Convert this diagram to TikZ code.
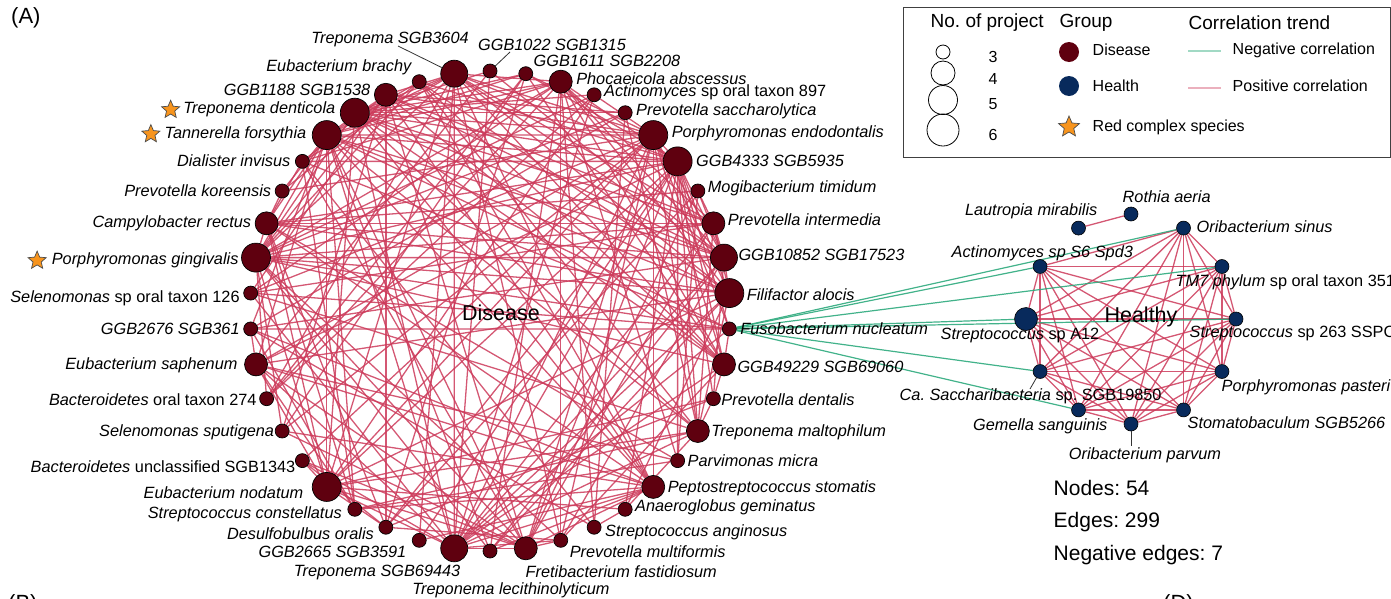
\documentclass[tikz,border=0pt]{standalone}
\usepackage{fontspec}
\setmainfont{Liberation Sans}
\usetikzlibrary{shapes.geometric,backgrounds}
\frenchspacing

\definecolor{diseasered}{RGB}{95,0,15}
\definecolor{healthblue}{RGB}{8,42,92}
\definecolor{posred}{RGB}{204,58,90}
\definecolor{neggreen}{RGB}{46,170,125}
\definecolor{starorange}{RGB}{247,148,29}

\tikzset{
  dnode/.style={circle, draw=black, line width=0.7pt, fill=diseasered, inner sep=0pt},
  hnode/.style={circle, draw=black, line width=0.6pt, fill=healthblue, inner sep=0pt},
  lab/.style={font=\fontsize{16.3}{18}\selectfont\itshape, inner sep=0.5pt},
  posedge/.style={draw=posred, line width=1.3pt, opacity=0.85},
  negedge/.style={draw=neggreen, line width=1.2pt, opacity=0.9},
  leader/.style={draw=black!80, line width=0.8pt},
  redstar/.style={star, star points=5, star point ratio=2.2, draw=black!70, line width=0.7pt, fill=starorange, inner sep=0pt},
  keytext/.style={font=\fontsize{16}{18}\selectfont, inner sep=0.5pt, anchor=west},
  keytitle/.style={font=\fontsize{19}{21}\selectfont, inner sep=0.5pt, anchor=west},
  stattext/.style={font=\fontsize{21}{24}\selectfont, inner sep=0.5pt, anchor=west}
}

%weights of the disease nodes (no. of project)
\newcommand\dwt{{1,1,2,1,1,3,3,1,2,3,3,1,2,1,2,1,2,1,1,1,2,1,3,1,1,1,3,1,1,1,2,1,1,3,2,1,1,3,3,2,1,3}}

\begin{document}
\begin{tikzpicture}[x=1pt,y=-1pt]
    \useasboundingbox (0,0) rectangle (1391,598);

    \node[font=\fontsize{22}{24}\selectfont, anchor=west, inner sep=0pt] (pa) at (11,18) {(A)};
    \node[font=\fontsize{22}{24}\selectfont, anchor=west, inner sep=0pt] (pb) at (8,605) {(B)};
    \node[font=\fontsize{22}{24}\selectfont, anchor=west, inner sep=0pt] (pd) at (1163,605) {(D)};

    %Disease ring
    \foreach \k/\d in {0/14,1/14,2/23,3/14,4/14,5/29,6/29,7/14,8/23,9/27,10/29,11/14,12/23,13/14,
        14/23,15/14,16/23,17/14,18/14,19/14,20/23,21/14,22/27,23/14,24/14,25/14,26/29,27/14,
        28/14,29/14,30/23,31/14,32/14,33/29,34/23,35/14,36/14,37/29,38/29,39/23,40/14,41/27}
        \node[dnode, minimum size=\d pt] (d\k) at ({490+240*cos(90-\k*360/42)},{311-240*sin(90-\k*360/42)}) {};

    %Healthy ring
    \foreach \k/\d in {0/14,1/14,2/14,3/14,4/14,5/14,6/14,7/14,8/14,9/23,10/14,11/14}
        \node[hnode, minimum size=\d pt] (h\k) at ({1131+105*cos(90-30*\k)},{319-105*sin(90-30*\k)}) {};

    \begin{pgfonlayer}{background}
        %Positive edges, disease
        \foreach \i in {0,...,40}{
            \pgfmathtruncatemacro\ia{\i+1}
            \foreach \j in {\ia,...,41}{
                \pgfmathtruncatemacro\hit{mod(37*\i+61*\j+23*mod(\i*\j,101)+11*mod(\j*\j,101),101) < 10.1*\dwt[\i]*\dwt[\j]}
                \ifnum\hit=1 \draw[posedge] (d\i) -- (d\j); \fi
            }
        }
        %Positive edges, healthy
        \draw[posedge] (h0) -- (h11);
        \foreach \i in {1,...,9}{
            \pgfmathtruncatemacro\ia{\i+1}
            \foreach \j in {\ia,...,10}
                \draw[posedge] (h\i) -- (h\j);
        }
        %Negative edges
        \foreach \t in {1,2,3,7,8,9,10}
            \draw[negedge] (d11) -- (h\t);
    \end{pgfonlayer}

    \node[font=\fontsize{21.5}{24}\selectfont, inner sep=0pt] (dt) at (501,313) {Disease};
    \node[font=\fontsize{21.5}{24}\selectfont, inner sep=0pt] (ht) at (1141,317) {Healthy};

    %Labels right
    \foreach \k/\xs/\ys/\txt in {2/3/3/{Phocaeicola abscessus},
        3/2/2/{Actinomyces \textup{sp oral taxon 897}},
        4/3/1/{Prevotella saccharolytica},
        5/3/2/{Porphyromonas endodontalis},
        6/3/0/{GGB4333 SGB5935},
        7/2/3/{Mogibacterium timidum},
        8/2/4/{Prevotella intermedia},
        9/0/3/{GGB10852 SGB17523},
        10/2/-2/{Filifactor alocis},
        11/3/0/{Fusobacterium nucleatum},
        12/1/-2/{GGB49229 SGB69060},
        13/0/-1/{Prevotella dentalis},
        14/1/-1/{Treponema maltophilum},
        15/2/0/{Parvimonas micra},
        16/2/-1/{Peptostreptococcus stomatis},
        17/2/2/{Anaeroglobus geminatus},
        18/3/-5/{Streptococcus anginosus},
        19/1/-11/{Prevotella multiformis}}
        \node[lab, anchor=west] (l\k) at ([xshift=\xs pt, yshift=\ys pt]d\k.east) {\txt};

    %Labels left
    \foreach \k/\xs/\ys/\txt in {24/-4/-6/{Desulfobulbus oralis},
        25/-5/-5/{Streptococcus constellatus},
        26/-8/-6/{Eubacterium nodatum},
        27/1/-6/{Bacteroidetes \textup{unclassified SGB1343}},
        28/0/-1/{Selenomonas sputigena},
        29/-2/-1/{Bacteroidetes \textup{oral taxon 274}},
        30/-6/-1/{Eubacterium saphenum},
        31/-3/0/{GGB2676 SGB361},
        32/-3/-5/{Selenomonas \textup{sp oral taxon 126}},
        33/-2/-3/{Porphyromonas gingivalis},
        34/-3/0/{Campylobacter rectus},
        35/-3/0/{Prevotella koreensis},
        36/-4/1/{Dialister invisus},
        37/-5/1/{Tannerella forsythia},
        38/-4/3/{Treponema denticola},
        39/-3/5/{GGB1188 SGB1538}}
        \node[lab, anchor=east] (l\k) at ([xshift=\xs pt, yshift=\ys pt]d\k.west) {\txt};

    %Labels top and bottom
    \node[lab] (l0) at (552,45) {GGB1022 SGB1315};
    \node[lab, anchor=west] (l1) at (533,61) {GGB1611 SGB2208};
    \node[lab, anchor=west] (l20) at (525,572) {Fretibacterium fastidiosum};
    \node[lab] (l21) at (511,590) {Treponema lecithinolyticum};
    \node[lab, anchor=east] (l22) at (461,572) {Treponema SGB69443};
    \node[lab, anchor=east] (l23) at (407,552) {GGB2665 SGB3591};
    \node[lab, anchor=east] (l40) at (412,67) {Eubacterium brachy};
    \node[lab] (l41) at (390,39) {Treponema SGB3604};

    \coordinate (c0) at (510,52);
    \coordinate (c41) at (398,46);
    \draw[leader] (d0) -- (c0);
    \draw[leader] (c41) -- (d41);

    %Red complex
    \node[redstar, minimum size=19pt] (s38) at ([xshift=-12pt]l38.west) {};
    \node[redstar, minimum size=19pt] (s37) at ([xshift=-13pt]l37.west) {};
    \node[redstar, minimum size=19pt] (s33) at ([xshift=-14pt]l33.west) {};

    %Healthy labels
    \node[lab, anchor=east] (g11) at (1098,211) {Lautropia mirabilis};
    \node[lab, anchor=west] (g0) at (1122,197) {Rothia aeria};
    \node[lab, anchor=west] (g1) at (1196,227) {Oribacterium sinus};
    \node[lab, anchor=west] (g10) at (951,253) {Actinomyces sp S6 Spd3};
    \node[lab, anchor=west] (g2) at (1175,282) {TM7 phylum \textup{sp oral taxon 351}};
    \node[lab, anchor=west] (g9) at (940,335) {Streptococcus \textup{sp A12}};
    \node[lab, anchor=west] (g3) at (1189,333) {Streptococcus \textup{sp 263 SSPC}};
    \node[lab, anchor=west] (g8) at (899,396) {Ca. Saccharibacteria \textup{sp. SGB19850}};
    \node[lab, anchor=west] (g4) at (1221,387) {Porphyromonas pasteri};
    \node[lab, anchor=east] (g7) at (1108,426) {Gemella sanguinis};
    \node[lab, anchor=west] (g5) at (1187,423) {Stomatobaculum SGB5266};
    \node[lab] (g6) at (1145,455) {Oribacterium parvum};

    \coordinate (c8) at (1030,389);
    \coordinate (c6) at (1131,446);
    \draw[leader] (h8) -- (c8);
    \draw[leader] (h6) -- (c6);

    %Stats
    \node[stattext] (st1) at (1053,488) {Nodes: 54};
    \node[stattext] (st2) at (1053,522) {Edges: 299};
    \node[stattext] (st3) at (1053,555) {Negative edges: 7};

    %Legend
    \draw[black!75, line width=1pt] (903,7) rectangle (1390,157);
    \node[keytitle] (kt1) at (930,23) {No. of project};
    \foreach \n/\y/\d/\ny in {3/52/14/57, 4/73/24/79, 5/100/29/104, 6/130/32/135}{
        \node[circle, draw=black, line width=0.8pt, minimum size=\d pt, inner sep=0pt] (kc\n) at (943,\y) {};
        \node[keytext] (kn\n) at (988,\ny) {\n};
    }
    \node[keytitle] (kt2) at (1059,23) {Group};
    \node[circle, fill=diseasered, minimum size=20pt, inner sep=0pt] (kd) at (1069,52) {};
    \node[keytext] (kdl) at (1092,50) {Disease};
    \node[circle, fill=healthblue, minimum size=20pt, inner sep=0pt] (kh) at (1069,86) {};
    \node[keytext] (khl) at (1092,86) {Health};
    \node[redstar, minimum size=22pt] (ks) at (1069,127) {};
    \node[keytext] (ksl) at (1092,127) {Red complex species};
    \node[keytitle] (kt3) at (1188,23) {Correlation trend};
    \coordinate (kg1) at (1188,51);
    \coordinate (kg2) at (1221,51);
    \coordinate (kp1) at (1188,88);
    \coordinate (kp2) at (1221,88);
    \draw[negedge, opacity=0.45] (kg1) -- (kg2);
    \draw[posedge, opacity=0.4] (kp1) -- (kp2);
    \node[keytext] (kgl) at (1232,50) {Negative correlation};
    \node[keytext] (kpl) at (1232,86) {Positive correlation};
\end{tikzpicture}
\end{document}
